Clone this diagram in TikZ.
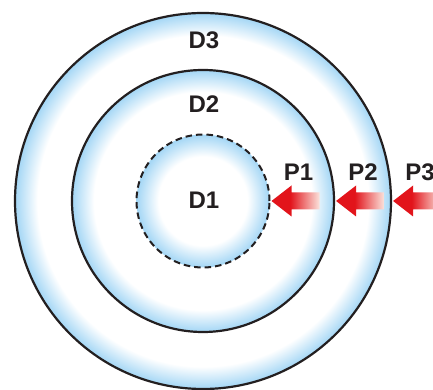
\documentclass[tikz,border=0pt]{standalone}
\usepackage{fontspec}
\setmainfont{Liberation Sans}
\usetikzlibrary{positioning}
\definecolor{RingBlue}{HTML}{A3D6F5}
\definecolor{ArrowRed}{HTML}{E2141B}
\definecolor{ArrowPale}{HTML}{FBE3DC}
\definecolor{InkDark}{HTML}{231F20}
\pgfdeclareradialshading{ringthree}{\pgfpointorigin}{color(0bp)=(white); color(22bp)=(white); color(25bp)=(RingBlue); color(50bp)=(RingBlue)}
\pgfdeclareradialshading{ringtwo}{\pgfpointorigin}{color(0bp)=(white); color(20.8bp)=(white); color(25bp)=(RingBlue); color(50bp)=(RingBlue)}
\pgfdeclareradialshading{ringone}{\pgfpointorigin}{color(0bp)=(white); color(16.7bp)=(white); color(25bp)=(RingBlue); color(50bp)=(RingBlue)}
\pgfdeclarehorizontalshading{arrowfade}{100bp}{color(0bp)=(ArrowRed); color(45bp)=(ArrowRed); color(75bp)=(ArrowPale); color(100bp)=(ArrowPale)}

\begin{document}
\begin{tikzpicture}[x=1pt,y=1pt]
  \tikzstyle{ring}=[circle, draw=InkDark, line width=2.2pt, inner sep=0pt, shade]
  \tikzstyle{dlabel}=[text=InkDark, inner sep=0pt, font=\bfseries\fontsize{24}{24}\selectfont]
  \tikzstyle{parrow}=[shade, shading=arrowfade, draw=none]
  \useasboundingbox (0,0) rectangle (433,390);
  \clip (0,0) rectangle (433,390);
  % rings, largest first
  \node[ring, shading=ringthree, minimum size=376pt] (d3) at (203,189) {};
  \node[ring, shading=ringtwo, minimum size=262pt] (d2) at (203,189) {};
  \node[ring, shading=ringone, line width=2pt, dash pattern=on 6.5pt off 4pt, minimum size=133pt] (d1) at (203,189) {};
  \node[dlabel] (t3) at (204,350) {D3};
  \node[dlabel] (t2) at (204,286) {D2};
  \node[dlabel] (t1) at (204,190) {D1};
  % pressure arrows
  \foreach \c/\p in {d1/P1,d2/P2,d3/P3}{
    \shade[parrow] (\c.east) ++(1,0) coordinate (tip\p)
      -- ++(20,15.5) -- ++(0,-7) -- ++(28,0) -- ++(0,-17) -- ++(-28,0) -- ++(0,-7) -- cycle;
    \node[dlabel] (lab\p) at ([shift={(27,29)}]tip\p) {\p};
  }
\end{tikzpicture}
\end{document}
